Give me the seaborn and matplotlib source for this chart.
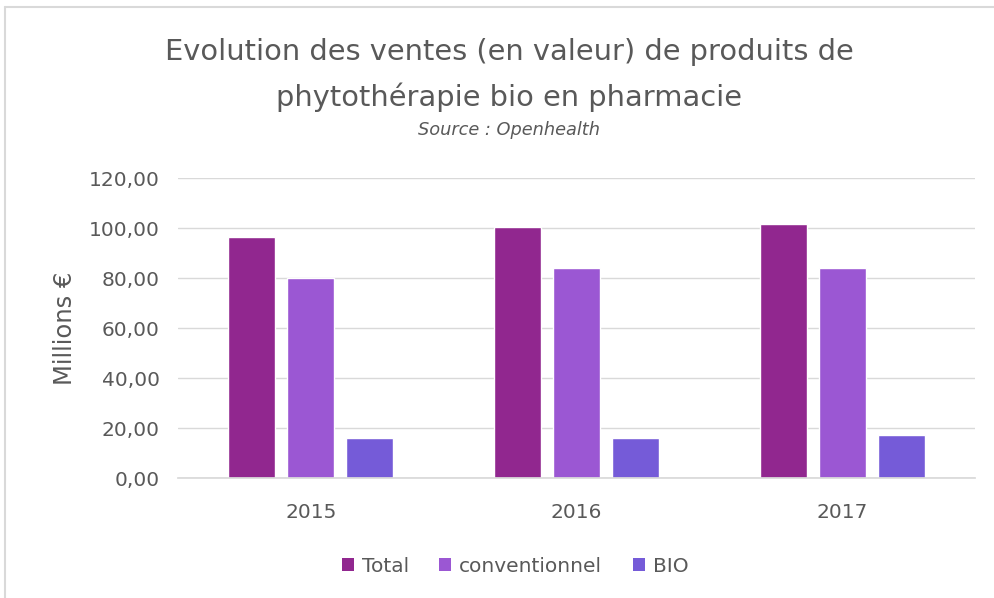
import matplotlib
matplotlib.use("Agg")
import matplotlib.pyplot as plt
import seaborn as sns
import pandas as pd
from matplotlib.lines import Line2D
from matplotlib.patches import Patch

years = ["2015", "2016", "2017"]
series = ["Total", "conventionnel", "BIO"]
total = [96.4, 100.4, 101.6]
conventionnel = [80.2, 84.0, 84.0]
bio = [16.0, 16.0, 17.2]
yticks = [0, 20, 40, 60, 80, 100, 120]
ytick_labels = ["0,00", "20,00", "40,00", "60,00", "80,00", "100,00", "120,00"]
colors = ["#91278F", "#9B57D3", "#755BD8"]

df = pd.DataFrame({
    "Année": years * 3,
    "Série": [s for s in series for _ in years],
    "Valeur": total + conventionnel + bio,
})

sns.set_theme(style="white")
plt.rcParams["font.family"] = ["DejaVu Sans"]

fig = plt.figure(figsize=(9.94, 5.98), dpi=100)
W, H = 994, 598
ax = fig.add_axes([178 / W, 1 - 478 / H, (975 - 178) / W, 300 / H])

sns.barplot(data=df, x="Année", y="Valeur", hue="Série", order=years,
            hue_order=series, palette=colors, width=0.666, gap=0.2,
            saturation=1, ax=ax, legend=False)

ax.set_ylim(0, 120)
ax.set_xlim(-0.5, 2.5)
ax.set_yticks(yticks)
ax.set_yticklabels(ytick_labels)
ax.yaxis.grid(True, color="#D9D9D9", linewidth=1)
ax.set_axisbelow(True)
for s in ["top", "right", "left"]:
    ax.spines[s].set_visible(False)
ax.spines["bottom"].set_color("#D9D9D9")
ax.tick_params(axis="both", length=0, labelsize=14.5, colors="#595959")
ax.tick_params(axis="y", pad=13)
ax.tick_params(axis="x", pad=18)
ax.set_xlabel("")
ax.set_ylabel("Millions €", fontsize=17.5, color="#595959", labelpad=9)

cx = 509 / W
fig.text(cx, 1 - 52 / H, "Evolution des ventes (en valeur) de produits de",
         ha="center", va="center", fontsize=20.8, color="#595959")
fig.text(cx, 1 - 97 / H, "phytothérapie bio en pharmacie",
         ha="center", va="center", fontsize=20.8, color="#595959")
fig.text(cx, 1 - 130 / H, "Source : Openhealth", ha="center", va="center",
         fontsize=12.8, style="italic", color="#595959")

handles = [Patch(facecolor=c, edgecolor="none") for c in colors]
fig.legend(handles, series, loc="center", bbox_to_anchor=(515 / W, 1 - 566 / H),
           ncol=3, frameon=False, fontsize=14.5, labelcolor="#595959",
           handlelength=0.6, handleheight=0.6, handletextpad=0.4,
           columnspacing=1.5)

fig.add_artist(Line2D([5 / W, 1.0], [1 - 7 / H, 1 - 7 / H],
                      transform=fig.transFigure, color="#D9D9D9", linewidth=1.5))
fig.add_artist(Line2D([5 / W, 5 / W], [0, 1 - 7 / H],
                      transform=fig.transFigure, color="#D9D9D9", linewidth=1.5))

fig.savefig("out.png", dpi=100)
